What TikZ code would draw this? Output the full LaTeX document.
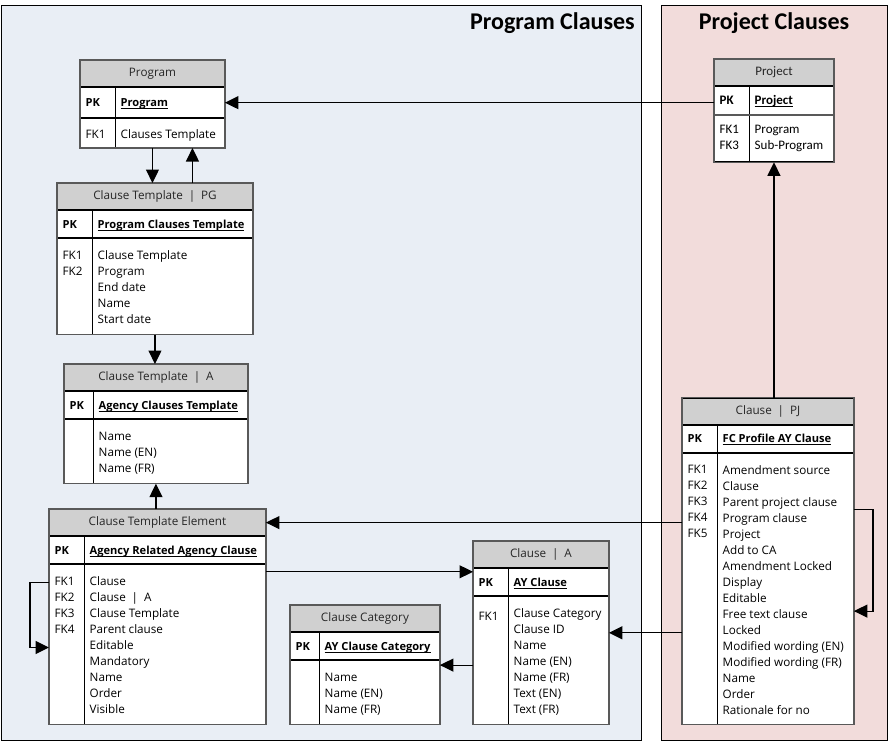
\documentclass[tikz,border=0pt]{standalone}
\usepackage{fontspec}
\setmainfont{Open Sans}
\newfontfamily\calfont{Carlito}
\usepackage{tikz}
\usetikzlibrary{positioning,arrows.meta,calc}

\definecolor{hdrgray}{HTML}{D0D0D0}
\definecolor{rimgray}{HTML}{595959}
\definecolor{pgpanel}{HTML}{E9EEF5}
\definecolor{pjpanel}{HTML}{F2DCDB}
\definecolor{txtdark}{HTML}{262626}

\newcommand{\pipesep}{\enspace|\enspace}

\tikzset{
    erfont/.style = {font=\fontsize{11.7}{16}\selectfont},
    pkfont/.style = {font=\fontsize{11.1}{16}\selectfont},
    hdr/.style = {
        draw,
        shape=rectangle,
        fill=hdrgray,
        minimum height=26.3pt,
        inner sep=0pt,
        line width=0.9pt,
        text=txtdark,
        erfont
    },
    pkrow/.style = {
        draw,
        shape=rectangle,
        fill=white,
        minimum height=27pt,
        inner sep=0pt,
        line width=0.9pt
    },
    bodyrow/.style = {
        draw,
        shape=rectangle,
        fill=white,
        inner sep=0pt,
        line width=0.9pt
    },
    cell/.style = {line width=0.9pt},
    rim/.style = {draw=rimgray, line width=1.3pt},
    keytxt/.style = {pkfont, inner sep=0pt, anchor=base west},
    bodytxt/.style = {
        erfont,
        inner sep=0pt,
        anchor=north west,
        align=left,
        yshift=-12.5pt,
        execute at begin node=\strut
    },
    title/.style = {font=\calfont\bfseries\fontsize{24}{28}\selectfont, inner sep=0pt},
    link/.style = {draw, ->, line width=1.2pt},
    >={Triangle[length=13.5pt, width=13pt]},
}

% name, (x,y) of top left, width, key column, header, primary key, keys, fields, body height
\newcommand{\entity}[9]{%
    \node[hdr, minimum width=#3, anchor=north west] (#1) at #2 {#5};
    \node[pkrow, minimum width=#3, anchor=north west] (#1-pk) at (#1.south west) {};
    \node[bodyrow, minimum width=#3, minimum height=#9, anchor=north west] (#1-body) at (#1-pk.south west) {};
    \draw[cell] ([xshift=#4]#1-pk.north west) -- ([xshift=#4]#1-body.south west);
    \draw[rim] (#1.north west) rectangle (#1-body.south east);
    \node[keytxt] (#1-pkkey) at ([xshift=5.5, yshift=-4.2]#1-pk.west) {\textbf{PK}};
    \node[keytxt] (#1-pkname) at ([xshift=#4+5.5, yshift=-4.2]#1-pk.west) {\underline{\smash{\textbf{#6}}}};
    \node[bodytxt] (#1-keys) at ([xshift=5.5]#1-body.north west) {#7};
    \node[bodytxt] (#1-fields) at ([xshift=#4+5.5]#1-body.north west) {#8};
}

\begin{document}
\begin{tikzpicture}[x=1pt, y=-1pt]
    \useasboundingbox (0,0) rectangle (889,742);

    % panels
    \draw[fill=pgpanel, line width=1pt] (1,5) rectangle (641,740);
    \draw[fill=pjpanel, line width=1pt] (661,5) rectangle (887,740);
    \node[title, anchor=base east] (pgtitle) at (635,29) {Program Clauses};
    \node[title, anchor=base] (pjtitle) at (774,29) {Project Clauses};

    % program clauses
    \begin{scope}[pkrow/.append style={minimum height=30pt}, bodytxt/.append style={yshift=3.5pt}]
        \entity{prog}{(80,60)}{144}{35}{Program}{Program}{FK1}{Clauses Template}{29}
    \end{scope}
    \entity{ctpg}{(57,183)}{195}{35}{Clause Template\pipesep PG}{Program Clauses Template}
        {FK1\\FK2}{Clause Template\\Program\\End date\\Name\\Start date}{95.7}
    \entity{cta}{(64,364)}{183}{29}{Clause Template\pipesep A}{Agency Clauses Template}
        {}{Name\\Name (EN)\\Name (FR)}{63.7}
    \entity{cte}{(49,509)}{216}{35}{Clause Template Element}{Agency Related Agency Clause}
        {FK1\\FK2\\FK3\\FK4}{Clause\\Clause\pipesep A\\Clause Template\\Parent clause\\Editable\\Mandatory\\Name\\Order\\Visible}{159.7}
    \entity{cc}{(290,605)}{149}{29}{Clause Category}{AY Clause Category}
        {}{Name\\Name (EN)\\Name (FR)}{63.7}
    \entity{cla}{(473,541)}{135}{35}{Clause\pipesep A}{AY Clause}
        {FK1}{Clause Category\\Clause ID\\Name\\Name (EN)\\Name (FR)\\Text (EN)\\Text (FR)}{127.7}

    % project clauses
    \entity{pj}{(682,397.5)}{171}{35}{Clause\pipesep PJ}{FC Profile AY Clause}
        {FK1\\FK2\\FK3\\FK4\\FK5}{Amendment source\\Clause\\Parent project clause\\Program clause\\Project\\Add to CA\\Amendment Locked\\Display\\Editable\\Free text clause\\Locked\\Modified wording (EN)\\Modified wording (FR)\\Name\\Order\\Rationale for no}{271.2}
    \begin{scope}[erfont/.style={font=\calfont\fontsize{13}{16}\selectfont},
                  pkfont/.style={font=\calfont\fontsize{13}{16}\selectfont},
                  pkrow/.append style={minimum height=27.7pt},
                  bodytxt/.append style={yshift=2.2pt}]
        \entity{proj}{(714,59)}{119}{35}{Project}{Project}{FK1\\FK3}{Program\\Sub-Program}{46.6}
        \draw[draw=rimgray, line width=2.2pt] (proj-pk.south west) -- (proj-pk.south east);
    \end{scope}

    % links
    \coordinate (prog-up) at ([xshift=40]prog-body.south);
    \coordinate (cte-out) at ([yshift=-18.7]cte-body.north west);
    \coordinate (cte-in) at ([yshift=-83.4]cte-body.north west);
    \coordinate (cte-cla) at ([yshift=-7.7]cte-body.north east);
    \coordinate (cla-in) at ([yshift=-36.7]cla-body.north east);
    \coordinate (cla-out) at ([yshift=-69]cla-body.north west);
    \coordinate (pj-out) at ([yshift=-57]pj-body.north east);
    \coordinate (pj-in) at ([yshift=-158.5]pj-body.north east);

    \path[link] (prog-pk.east -| proj-pk.west) -- (prog-pk.east);
    \path[link] (prog-body.south) -- (prog-body.south |- ctpg.north);
    \path[link] (prog-up |- ctpg.north) -- (prog-up);
    \path[link] (ctpg-body.south) -- (ctpg-body.south |- cta.north);
    \path[link] (cta-body.south |- cte.north) -- (cta-body.south);
    \path[link] (cte-out) -- ++(-19,0) |- (cte-in);
    \path[link] (cte.east -| pj.west) -- (cte.east);
    \path[link] (cte-cla) -- (cte-cla -| cla.west);
    \path[link] (cla-in -| pj.west) -- (cla-in);
    \path[link] (cla-out) -- (cla-out -| cc.east);
    \path[link] (pj-out) -- ++(19,0) |- (pj-in);
    \path[link] (pj.north -| proj-body.south) -- (proj-body.south);
\end{tikzpicture}
\end{document}
